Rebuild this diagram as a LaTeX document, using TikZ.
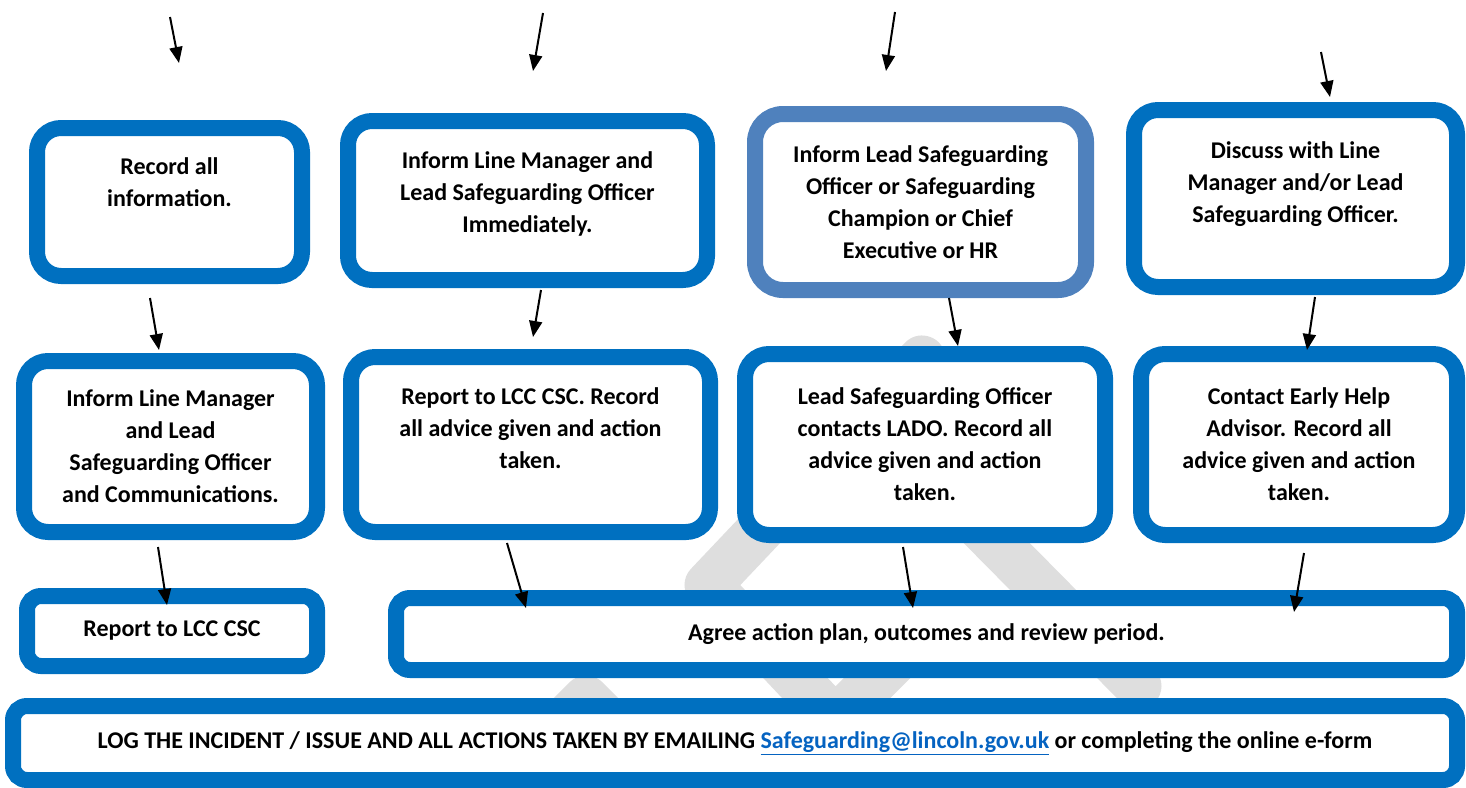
\documentclass[tikz,border=0pt]{standalone}
\usepackage{fontspec}
\setmainfont{Carlito}
\usetikzlibrary{arrows.meta, calc}
\definecolor{boxblue}{HTML}{0070C0}
\definecolor{paleblue}{HTML}{4F81BD}
\definecolor{linkblue}{HTML}{0563C1}
\definecolor{wmgrey}{HTML}{DEDEDE}
\tikzset{
	->, % every connector is an arrow
	>={Triangle[length=16pt,width=13pt]}, % solid triangle heads
	x=1pt, y=-1pt, % one unit per pixel of the sketch, y runs downwards
	every node/.style={font=\fontsize{24}{32}\selectfont\bfseries, align=center, inner sep=0pt}, % text in all boxes
	roundbox/.style={draw=boxblue, fill=white, line width=16pt, outer sep=0pt, rounded corners=24pt}, % the tall boxes
	flatbox/.style={roundbox, rounded corners=14pt}, % the one-line boxes
	watermark/.style={-, draw=wmgrey, line width=47pt, line join=round, line cap=round}, % faint mark behind
}

\begin{document}
\begin{tikzpicture}
	\useasboundingbox (0,0) rectangle (1466,787);
	% watermark, mostly hidden by the boxes
	\draw[watermark] (540,745) -- (586,699) -- (632,745);
	\draw[watermark] (895,660) -- (835,720) -- (708,585) -- (922,359) -- (970,516) -- (1138,686);

			\node[roundbox, minimum width=265pt, minimum height=148pt] (rec) at (169.5,202) {Record all\\information.\\[7pt]~};
			\node[roundbox, minimum width=359pt, minimum height=159pt] (inform) at (527.5,200.5) {Inform Line Manager and\\Lead Safeguarding Officer\\Immediately.\\[-16pt]~};
			\node[roundbox, draw=paleblue, rounded corners=28pt, minimum width=331pt, minimum height=176pt] (lead) at (920.5,202) {Inform Lead Safeguarding\\Officer or Safeguarding\\Champion or Chief\\Executive or HR};
			\node[roundbox, minimum width=323pt, minimum height=177pt] (discuss) at (1295.5,198.5) {Discuss with Line\\Manager and/or Lead\\Safeguarding Officer.\\[1pt]~};
			\node[roundbox, minimum width=293pt, minimum height=171pt] (comms) at (170.5,446.5) {Inform Line Manager\\and Lead\\Safeguarding Officer\\and Communications.};
			\node[roundbox, minimum width=359pt, minimum height=175pt] (lccA) at (530.5,444.5) {Report to LCC CSC. Record\\all advice given and action\\taken.\\~};
			\node[roundbox, minimum width=360pt, minimum height=181pt] (lado) at (925,444.5) {Lead Safeguarding Officer\\contacts LADO. Record all\\advice given and action\\taken.};
			\node[roundbox, minimum width=316pt, minimum height=181pt] (earlyhelp) at (1299,444.5) {Contact Early Help\\Advisor. Record all\\advice given and action\\taken.};
			\node[flatbox, minimum width=290pt, minimum height=70pt] (lccB) at (172,631) {Report to LCC CSC};
			\node[flatbox, minimum width=1061pt, minimum height=72pt] (plan) at (926.5,634) {Agree action plan, outcomes and review period.};
			\node[flatbox, minimum width=1444pt, minimum height=74pt] (log) at (735,743) {LOG THE INCIDENT / ISSUE AND ALL ACTIONS TAKEN BY EMAILING \textcolor{linkblue}{\underline{Safeguarding@lincoln.gov.uk}} or completing the online e-form};

			\coordinate (top1) at (170,17);
			\coordinate (top2) at (543,13);
			\coordinate (top3) at (895,12);
			\coordinate (top4) at (1321,52);
	\path[line width=2pt]
			(top1) edge ($(rec.north)+(9.5,-65)$)
			(top2) edge ($(inform.north)+(5.5,-50)$)
			(top3) edge ($(lead.north)+(-34.5,-43)$)
			(top4) edge ($(discuss.north)+(34.5,-13)$)
			($(rec.south)+(-19.5,22)$) edge ($(comms.north)+(-11.5,-11)$)
			($(inform.south)+(13.5,10)$) edge ($(lccA.north)+(2.5,-20)$)
			($(lead.south)+(28.5,8)$) edge ($(lado.north)+(33,-8)$)
			($(discuss.south)+(19.5,10)$) edge ($(earlyhelp.north)+(8,-4)$)
			($(comms.south)+(-12.5,15)$) edge ($(lccB.north)+(-5,9)$)
			($(lccA.south)+(-23.5,11)$) edge ($(plan.north)+(-400.5,10)$)
			($(lado.south)+(-22,12)$) edge ($(plan.north)+(-13.5,10)$)
			($(earlyhelp.south)+(5,18)$) edge ($(plan.north)+(367.5,14)$);
\end{tikzpicture}
\end{document}
